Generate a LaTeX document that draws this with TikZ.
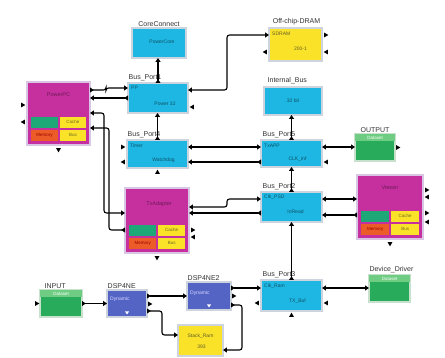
\documentclass[tikz,border=0pt]{standalone}
\usepackage{fontspec}
\setmainfont{Liberation Sans}
\usetikzlibrary{arrows.meta}
\definecolor{cyanb}{RGB}{30,182,226}
\definecolor{magb}{RGB}{198,48,158}
\definecolor{yelb}{RGB}{250,226,40}
\definecolor{grnb}{RGB}{40,172,92}
\definecolor{grnl}{RGB}{110,205,130}
\definecolor{blub}{RGB}{84,100,196}
\definecolor{orab}{RGB}{236,92,40}
\definecolor{subg}{RGB}{30,168,120}
\definecolor{frameC}{RGB}{205,212,222}
\definecolor{frameM}{RGB}{216,198,228}
\definecolor{frameG}{RGB}{200,225,205}
\newcommand\subblk[2]{%
  \node[sub, fill=subg, minimum width=#2] (#1g) at ([shift={(4,-17)}]#1.south west) {};
  \node[sub, fill=yelb, minimum width=#2, text=olive!70!black] (#1c) at ([shift={(6+#2,-17)}]#1.south west) {Cache};
  \node[sub, fill=orab, minimum width=#2, text=red!60!black] (#1m) at ([shift={(4,-4)}]#1.south west) {Memory};
  \node[sub, fill=yelb, minimum width=#2, text=olive!70!black] (#1b) at ([shift={(6+#2,-4)}]#1.south west) {Bus};
}
\begin{document}
\begin{tikzpicture}[x=1pt,y=-1pt,
  box/.style={anchor=north west, inner sep=0pt, outer sep=0pt, line width=1.5pt},
  cy/.style={box, fill=cyanb, draw=frameC},
  mg/.style={box, fill=magb, draw=frameM, line width=2.5pt},
  ye/.style={box, fill=yelb, draw=frameC},
  gr/.style={box, fill=grnb, draw=frameG},
  bl/.style={box, fill=blub, draw=frameC},
  band/.style={anchor=north west, inner sep=0pt, fill=grnl, minimum height=7pt, text=white, font=\fontsize{4.5}{5}\selectfont},
  sub/.style={anchor=south west, inner sep=0pt, minimum height=11pt, font=\fontsize{4.5}{5}\selectfont},
  lbl/.style={inner sep=0.5pt, font=\fontsize{7}{8}\selectfont, text=black!80},
  ctxt/.style={inner sep=0pt, font=\fontsize{5}{6}\selectfont, text=cyanb!45!black},
  mtxt/.style={inner sep=0pt, font=\fontsize{5.5}{6}\selectfont, text=magb!55!black},
  ytxt/.style={inner sep=0pt, font=\fontsize{5}{6}\selectfont, text=olive!60!black},
  btxt/.style={inner sep=0pt, font=\fontsize{5}{6}\selectfont, text=white!85!blue},
  conn/.style={line width=1.1pt, rounded corners=2.5pt},
  in2/.style={conn, {Triangle[length=3.8pt,width=4.8pt]}-{Triangle[length=3.8pt,width=4.8pt]}},
  flow/.style={conn, {Triangle[length=3.8pt,width=4.8pt,reversed]}-{Triangle[length=3.8pt,width=4.8pt]}},
  pr/.pic={\fill (-1.8,-2.4) -- (2.3,0) -- (-1.8,2.4) -- cycle;},
  pl/.pic={\fill (1.8,-2.4) -- (-2.3,0) -- (1.8,2.4) -- cycle;},
  pu/.pic={\fill (-2.4,1.8) -- (0,-2.3) -- (2.4,1.8) -- cycle;},
  pd/.pic={\fill (-2.4,-1.8) -- (0,2.3) -- (2.4,-1.8) -- cycle;},
  wd/.pic={\fill[white] (-2,-1.5) -- (0,1.5) -- (2,-1.5) -- cycle;}
]
\fill[white] (0,0) rectangle (445,358);
\useasboundingbox (0,0) rectangle (445,358);

% ---------- boxes ----------
\node[cy, minimum width=54, minimum height=30] (cc) at (132,28) {};
\node[ye, minimum width=53, minimum height=33] (dram) at (269,28) {};
\node[cy, minimum width=60, minimum height=30] (bp1) at (128,83) {};
\node[mg, minimum width=63, minimum height=63] (lm) at (27,82) {};
\node[cy, minimum width=61, minimum height=28] (bp4) at (127,140) {};
\node[cy, minimum width=58, minimum height=28] (ib) at (264,87) {};
\node[cy, minimum width=61, minimum height=27] (bp5) at (261,140) {};
\node[gr, minimum width=40, minimum height=27] (out) at (355,134) {};
\node[cy, minimum width=61, minimum height=30] (bp2) at (261,192) {};
\node[mg, minimum width=64, minimum height=65] (mm) at (125,188) {};
\node[mg, minimum width=66, minimum height=64] (rm) at (357,175) {};
\node[cy, minimum width=61, minimum height=31] (bp3) at (261,280) {};
\node[gr, minimum width=41, minimum height=27] (dd) at (369,275) {};
\node[gr, minimum width=42, minimum height=27] (inp) at (40,290) {};
\node[bl, minimum width=40, minimum height=27] (dsp1) at (107,290) {};
\node[bl, minimum width=44, minimum height=28] (dsp2) at (187,282) {};
\node[ye, minimum width=45, minimum height=31] (stk) at (178,325) {};

% green bands
\node[band, minimum width=40] (outb) at (out.north west) {Dataset};
\node[band, minimum width=41] (ddb) at (dd.north west) {Dataset};
\node[band, minimum width=42] (inpb) at (inp.north west) {Dataset};

% sub blocks
\subblk{lm}{26.5}
\subblk{mm}{27}
\subblk{rm}{28}

% ---------- labels ----------
\node[lbl, anchor=south] (ccl) at ([shift={(0,-1)}]cc.north) {CoreConnect};
\node[lbl, anchor=south] (draml) at ([shift={(1,-2)}]dram.north) {Off-chip-DRAM};
\node[lbl, anchor=south west] (bp1l) at ([shift={(0,-1)}]bp1.north west) {Bus\_Port1};
\node[lbl, anchor=south west] (bp4l) at ([shift={(0,-1)}]bp4.north west) {Bus\_Port4};
\node[lbl, anchor=south west] (ibl) at ([shift={(3,-2)}]ib.north west) {Internal\_Bus};
\node[lbl, anchor=south west] (bp5l) at ([shift={(1,-1)}]bp5.north west) {Bus\_Port5};
\node[lbl, anchor=south] (outl) at ([shift={(0,-1)}]out.north) {OUTPUT};
\node[lbl, anchor=south west] (bp2l) at ([shift={(1,-1)}]bp2.north west) {Bus\_Port2};
\node[lbl, anchor=south west] (bp3l) at ([shift={(1,-1)}]bp3.north west) {Bus\_Port3};
\node[lbl, anchor=south] (ddl) at ([shift={(2,-1)}]dd.north) {Device\_Driver};
\node[lbl, anchor=south west] (inpl) at ([shift={(4,-1)}]inp.north west) {INPUT};
\node[lbl, anchor=south west] (dsp1l) at ([shift={(0,-1)}]dsp1.north west) {DSP4NE};
\node[lbl, anchor=south west] (dsp2l) at ([shift={(0,-1)}]dsp2.north west) {DSP4NE2};

% ---------- inner texts ----------
\node[ctxt] (cct) at ([shift={(3,-1)}]cc.center) {PowerCore};
\node[ytxt, anchor=north west] (dramt1) at ([shift={(3,4)}]dram.north west) {SDRAM};
\node[ytxt] (dramt2) at ([shift={(5,4)}]dram.center) {200-1};
\node[ctxt, anchor=north west] (bp1t1) at ([shift={(3,3)}]bp1.north west) {PP};
\node[ctxt] (bp1t2) at ([shift={(7,6)}]bp1.center) {Power 32};
\node[mtxt] (lmt) at ([shift={(0,13)}]lm.north) {PowerPC};
\node[ctxt, anchor=north west] (bp4t1) at ([shift={(3,4)}]bp4.north west) {Timer};
\node[ctxt] (bp4t2) at ([shift={(6,6)}]bp4.center) {Watchdog};
\node[ctxt] (ibt) at ([shift={(0,0)}]ib.center) {32 bit};
\node[ctxt, anchor=north west] (bp5t1) at ([shift={(3,4)}]bp5.north west) {TxAPP};
\node[ctxt] (bp5t2) at ([shift={(6,6)}]bp5.center) {CLK\_inf};
\node[ctxt, anchor=north west] (bp2t1) at ([shift={(3,3)}]bp2.north west) {Clk\_PSD};
\node[ctxt] (bp2t2) at ([shift={(4,5)}]bp2.center) {InRead};
\node[mtxt] (mmt) at ([shift={(2,16)}]mm.north) {TxAdapter};
\node[mtxt] (rmt) at ([shift={(0,13)}]rm.north) {Viewer};
\node[ctxt, anchor=north west] (bp3t1) at ([shift={(3,4)}]bp3.north west) {Clk\_Ram};
\node[ctxt] (bp3t2) at ([shift={(6,6)}]bp3.center) {TX\_Buf};
\node[btxt, anchor=north west] (dsp1t) at ([shift={(3,7)}]dsp1.north west) {Dynamic};
\node[btxt, anchor=north west] (dsp2t) at ([shift={(3,9)}]dsp2.north west) {Dynamic};
\node[ytxt] (stkt1) at ([shift={(0,11)}]stk.north) {Stack\_Ram};
\node[ytxt] (stkt2) at ([shift={(1,22)}]stk.north) {393};

% white markers on DSP boxes
\pic at ([shift={(0,-4)}]dsp1.south) {wd};
\pic at ([shift={(0,-4)}]dsp2.south) {wd};

% ---------- connectors ----------
\draw[flow] (bp1.north) -- (bp1.north |- cc.south);
\draw[flow] ([shift={(0,8)}]lm.north east) -- ++(16,0) |- ([shift={(0,5)}]bp1.north west);
\draw[flow] ([shift={(0,15)}]bp1.north west) -- ([shift={(0,15)}]bp1.north west -| lm.east);
\draw[in2] ([shift={(0,7)}]bp1.north east) -- ++(39,0) |- ([shift={(0,7)}]dram.north west);
\draw[flow] (bp4.north) -- (bp4.north |- bp1.south);
\draw[in2] ([shift={(0,7)}]bp4.north east) -- ([shift={(0,7)}]bp4.north east -| bp5.west);
\draw[flow] ([shift={(0,22)}]bp5.north west) -- ([shift={(0,22)}]bp5.north west -| bp4.east);
\draw[flow] (bp5.north) -- (bp5.north |- ib.south);
\draw[in2] ([shift={(0,7)}]bp5.north east) -- ([shift={(0,7)}]bp5.north east -| out.west);
\draw[flow] (bp2.north) -- (bp2.north |- bp5.south);
\draw[flow] (bp3.north) -- (bp3.north |- bp2.south);
\draw[in2] ([shift={(0,19)}]mm.north east) -- ++(38,0) |- ([shift={(0,7)}]bp2.north west);
\draw[flow] ([shift={(0,21)}]bp2.north west) -- ([shift={(0,21)}]bp2.north west -| mm.east);
\draw[in2] ([shift={(0,7)}]bp2.north east) -- ([shift={(0,7)}]bp2.north east -| rm.west);
\draw[flow] ([shift={(0,40)}]rm.north west) -- ([shift={(0,40)}]rm.north west -| bp2.east);
\draw[in2] ([shift={(0,31)}]lm.north east) -- ++(14,0) |- ([shift={(0,25)}]mm.north west);
\draw[flow] ([shift={(0,42)}]mm.north west) -- ++(-16,0) |- ([shift={(0,46)}]lm.north east);
\draw[flow] (inp.east) -- (inp.east -| dsp1.west);
\draw[flow] ([shift={(0,6)}]dsp1.north east) -- ([shift={(0,6)}]dsp1.north east -| dsp2.west);
\draw[flow] ([shift={(0,21)}]dsp1.north east) -- ++(15,0) |- ([shift={(0,10)}]stk.north west);
\draw[flow] ([shift={(0,6)}]dsp2.north east) -- ([shift={(0,6)}]dsp2.north east -| bp3.west);
\draw[flow] ([shift={(0,23)}]dsp2.north east) -- ++(11,0) |- ([shift={(0,25)}]stk.north east);
\draw[in2] ([shift={(0,8)}]bp3.north east) -- ([shift={(0,8)}]bp3.north east -| dd.west);

% ---------- unconnected ports ----------
\pic at ([shift={(-4,23)}]lm.north west) {pr};
\pic at ([shift={(-4,40)}]lm.north west) {pl};
\pic at ([shift={(0,5)}]lm.south) {pd};
\pic at ([shift={(4,7)}]dram.north east) {pr};
\pic at ([shift={(4,24)}]dram.north east) {pl};
\pic at ([shift={(-4,24)}]dram.north west) {pl};
\pic at ([shift={(4,24)}]bp1.north east) {pl};
\pic at ([shift={(-4,7)}]bp4.north west) {pr};
\pic at ([shift={(-4,22)}]bp4.north west) {pl};
\pic at ([shift={(0,4)}]bp4.south) {pu};
\pic at ([shift={(4,22)}]bp5.north east) {pl};
\pic at ([shift={(3,0)}]out.east) {pr};
\pic at ([shift={(4,42)}]mm.north east) {pr};
\pic at ([shift={(4,49)}]mm.north east) {pl};
\pic at ([shift={(0,5)}]mm.south) {pd};
\pic at ([shift={(4,15)}]rm.north east) {pr};
\pic at ([shift={(4,22)}]rm.north east) {pl};
\pic at ([shift={(4,38)}]rm.north east) {pr};
\pic at ([shift={(4,47)}]rm.north east) {pl};
\pic at ([shift={(0,5)}]rm.south) {pd};
\pic at ([shift={(-4,23)}]bp3.north west) {pl};
\pic at ([shift={(4,23)}]bp3.north east) {pl};
\pic at ([shift={(0,4)}]bp3.south) {pu};
\pic at ([shift={(3,14)}]dsp2.north east) {pr};
\pic at ([shift={(3,14)}]dsp1.north east) {pr};
\pic at ([shift={(-3,0)}]inp.west) {pr};
\end{tikzpicture}
\end{document}
